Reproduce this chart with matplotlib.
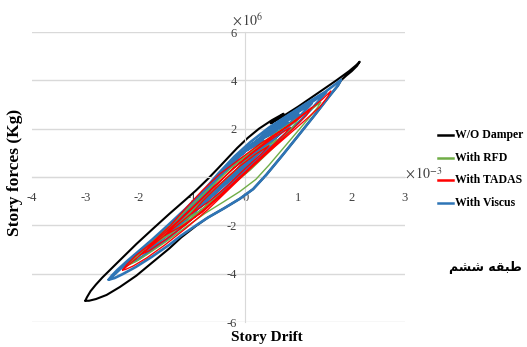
import matplotlib.pyplot as plt
from matplotlib.lines import Line2D

plt.rcParams['font.family'] = ['Liberation Serif', 'DejaVu Sans']
plt.rcParams['mathtext.fontset'] = 'stix'
plt.rcParams['axes.unicode_minus'] = False

# story drift in 1e-3, story force in 1e6 kg (hysteresis paths, in drawing order)
wod_drift = [-3.0, -2.97, -2.9, -2.8, -2.68, -2.4, -2.04, -1.72, -1.42, -1.15, -0.92, -0.7, -0.5, -0.3,
             -0.15, 0.05, 0.26, 0.5, 0.72, 0.62, 0.48, 0.7, 1.0, 1.35, 1.7, 1.95, 2.08, 2.15,
             2.1, 2.0, 1.9, 1.8, 1.74, 1.6, 1.3, 1.0, 0.7, 0.4, 0.15, -0.1, -0.4, -0.7, -0.92,
             -1.2, -1.42, -1.75, -2.04, -2.35, -2.6, -2.8, -2.93, -3.0]
wod_force = [-5.12, -4.98, -4.72, -4.45, -4.16, -3.55, -2.77, -2.12, -1.52, -1.0, -0.55, -0.08, 0.38, 0.85,
             1.2, 1.62, 2.0, 2.35, 2.62, 2.42, 2.22, 2.5, 2.92, 3.45, 3.98, 4.38, 4.62, 4.77,
             4.6, 4.38, 4.2, 4.0, 3.78, 3.4, 2.55, 1.72, 0.9, 0.1, -0.5, -0.9, -1.3, -1.68, -2.02,
             -2.5, -2.95, -3.55, -4.08, -4.55, -4.88, -5.05, -5.12, -5.12]

viscus_drift = [-2.56, -2.5, -2.4, -2.2, -1.95, -1.74, -1.45, -1.11, -0.8, -0.5, -0.2, 0.1, 0.45, 0.8,
                1.15, 1.5, 1.7, 1.8, 1.74, 1.6, 1.3, 1.0, 0.7, 0.4, 0.15, -0.1, -0.4, -0.7, -0.92,
                -1.2, -1.42, -1.75, -2.05, -2.3, -2.45, -2.56,
                -2.3, -2.0, -1.45, -0.8, -0.2, 0.45, 1.15, 1.52, 1.3, 1.0, 0.45, -0.2, -0.8, -1.45, -2.0, -2.3,
                -2.08, -1.74, -1.11, -0.5, 0.1, 0.8, 1.25, 1.0, 0.45, -0.2, -0.8, -1.45, -1.85, -2.08,
                -1.85, -1.45, -0.8, -0.2, 0.45, 1.0, 0.7, 0.1, -0.5, -1.11, -1.6, -1.85,
                -1.6, -1.11, -0.5, 0.1, 0.8, 0.45, -0.2, -0.8, -1.3, -1.6,
                -1.35, -0.9, -0.3, 0.2, 0.6, 0.3, -0.3, -0.9, -1.35,
                -1.1, -0.6, -0.1, 0.35, 0.0, -0.6, -1.1,
                -0.85, -0.4, 0.15, -0.35, -0.85]
viscus_force = [-4.25, -4.08, -3.85, -3.45, -2.98, -2.58, -2.0, -1.3, -0.62, 0.15, 0.85, 1.45, 2.05, 2.55,
                3.05, 3.52, 3.85, 4.02, 3.78, 3.4, 2.55, 1.72, 0.9, 0.1, -0.5, -0.9, -1.3, -1.68, -2.0,
                -2.42, -2.8, -3.3, -3.72, -4.02, -4.18, -4.25,
                -3.72, -3.12, -2.1, -0.72, 0.72, 1.92, 2.95, 3.5, 2.95, 2.25, 1.2, -0.1, -1.35, -2.55, -3.4, -3.72,
                -3.28, -2.7, -1.42, 0.0, 1.3, 2.42, 3.05, 2.45, 1.4, 0.1, -1.15, -2.4, -3.05, -3.28,
                -2.85, -2.1, -0.75, 0.7, 1.9, 2.6, 1.9, 0.65, -0.55, -1.75, -2.6, -2.85,
                -2.4, -1.4, 0.05, 1.3, 2.25, 1.45, 0.15, -1.05, -2.0, -2.4,
                -1.9, -0.88, 0.5, 1.45, 1.9, 1.2, 0.0, -1.2, -1.9,
                -1.4, -0.25, 0.95, 1.5, 0.6, -0.6, -1.4,
                -0.95, 0.2, 1.1, -0.2, -0.95]

rfd_drift = [-2.2, -2.1, -1.9, -1.6, -1.3, -0.95, -0.6, -0.25, 0.1, 0.45, 0.8, 1.1, 1.3, 1.42,
             1.36, 1.2, 0.95, 0.7, 0.45, 0.2, -0.1, -0.4, -0.75, -1.1, -1.5, -1.85, -2.05, -2.2,
             -1.7, -1.5, -1.1, -0.6, -0.1, 0.4, 0.8, 1.0, 0.85, 0.5, 0.1, -0.4, -0.9, -1.4, -1.7,
             -1.2, -0.95, -0.5, 0.0, 0.4, 0.6, 0.45, 0.1, -0.35, -0.85, -1.2]
rfd_force = [-3.65, -3.4, -3.0, -2.4, -1.78, -1.05, -0.32, 0.4, 1.05, 1.62, 2.15, 2.6, 2.9, 3.1,
             2.88, 2.45, 1.8, 1.15, 0.5, -0.1, -0.6, -1.02, -1.5, -2.05, -2.7, -3.22, -3.5, -3.65,
             -2.75, -2.3, -1.5, -0.45, 0.6, 1.5, 2.1, 2.4, 1.95, 1.15, 0.3, -0.6, -1.5, -2.35, -2.75,
             -1.85, -1.3, -0.35, 0.65, 1.25, 1.55, 1.1, 0.35, -0.55, -1.4, -1.85]

tadas_drift = [-2.3, -2.22, -2.05, -1.74, -1.4, -1.11, -0.8, -0.49, -0.1, 0.3, 0.7, 0.95, 1.25, 1.45, 1.61,
               1.55, 1.4, 1.1, 0.8, 0.45, 0.1, -0.3, -0.7, -1.1, -1.5, -1.85, -2.1, -2.25, -2.3,
               -1.95, -1.8, -1.5, -1.1, -0.7, -0.3, 0.1, 0.5, 0.85, 1.1, 1.25,
               1.15, 0.9, 0.5, 0.1, -0.3, -0.7, -1.1, -1.5, -1.8, -1.95,
               -1.5, -1.35, -1.0, -0.6, -0.2, 0.2, 0.55, 0.85, 0.7, 0.4, 0.0, -0.4, -0.8, -1.2, -1.5,
               -1.0, -0.8, -0.45, -0.1, 0.2, 0.45, 0.3, 0.0, -0.35, -0.7, -1.0]
tadas_force = [-3.85, -3.62, -3.25, -2.7, -2.0, -1.28, -0.55, 0.1, 0.75, 1.4, 1.95, 2.32, 2.85, 3.22, 3.56,
               3.32, 2.9, 2.3, 1.72, 1.05, 0.35, -0.5, -1.35, -2.1, -2.8, -3.35, -3.68, -3.83, -3.85,
               -3.2, -2.88, -2.3, -1.5, -0.65, 0.2, 0.95, 1.65, 2.2, 2.62, 2.88,
               2.55, 2.0, 1.2, 0.4, -0.4, -1.2, -1.95, -2.6, -3.05, -3.2,
               -2.4, -2.05, -1.3, -0.45, 0.4, 1.1, 1.65, 2.05, 1.7, 1.05, 0.2, -0.65, -1.45, -2.05, -2.4,
               -1.5, -1.0, -0.25, 0.45, 0.95, 1.3, 0.95, 0.35, -0.4, -1.05, -1.5]

labels = ['W/O Damper', 'With RFD', 'With TADAS', 'With Viscus']
colors = ['#000000', '#70AD47', '#FF0000', '#2E75B6']
x_ticks = [-4, -3, -2, -1, 0, 1, 2, 3]
y_ticks = [-6, -4, -2, 0, 2, 4, 6]

fig = plt.figure(figsize=(5.27, 3.47), dpi=100)
ax = fig.add_axes([0.0607, 0.072, 0.7078, 0.8357])

line_kw = dict(solid_joinstyle='round', solid_capstyle='round')
ax.plot(wod_drift, wod_force, color=colors[0], lw=1.5, zorder=2, **line_kw)
ax.plot(viscus_drift, viscus_force, color=colors[3], lw=1.9, zorder=3, **line_kw)
ax.plot(rfd_drift, rfd_force, color=colors[1], lw=1.0, zorder=4, **line_kw)
ax.plot(tadas_drift, tadas_force, color=colors[2], lw=0.95, zorder=5, **line_kw)

ax.set_xlim(-4, 3)
ax.set_ylim(-6, 6)
ax.set_xticks(x_ticks)
ax.set_yticks(y_ticks)
ax.yaxis.grid(True, color='#D9D9D9', lw=1)
ax.set_axisbelow(True)
for side in ['top', 'right']:
    ax.spines[side].set_visible(False)
ax.spines['left'].set_position(('data', 0))
ax.spines['bottom'].set_position(('data', 0))
ax.spines['left'].set_color('#D9D9D9')
ax.spines['bottom'].set_color('#D9D9D9')
ax.tick_params(axis='both', length=0, labelsize=9, labelcolor='#404040')
ax.tick_params(axis='x', pad=11)
ax.tick_params(axis='y', pad=6)

fig.text(0.0285, 0.504, 'Story forces (Kg)', rotation=90, ha='center', va='center',
         fontsize=12.5, fontweight='bold')
fig.text(0.507, 1 - 338 / 347, 'Story Drift', ha='center', va='center', fontsize=11, fontweight='bold')
fig.text(232 / 527, 1 - 20 / 347, r'$\times\,10^{6}$', ha='left', va='center', fontsize=10, color='#404040')
fig.text(405 / 527, 1 - 174 / 347, r'$\times\,10^{-3}$', ha='left', va='center', fontsize=10, color='#404040')

# legend entries drawn beside the plot
for i, (lab, col) in enumerate(zip(labels, colors)):
    y = 1 - (135 + 22.7 * i) / 347
    fig.add_artist(Line2D([438 / 527, 453 / 527], [y, y], color=col, lw=1.8))
    fig.text(455 / 527, y, lab, ha='left', va='center', fontsize=8.5, fontweight='bold')

# "sixth story" in Persian, written in presentation forms so the letters join
fig.text(485 / 527, 1 - 267 / 347, '\ufee2\ufeb8\ufeb7 \ufeea\ufed8\ufe92\ufec3', ha='center', va='center',
         fontsize=9, fontweight='bold', family='DejaVu Sans')

fig.savefig('out.png', dpi=100)
